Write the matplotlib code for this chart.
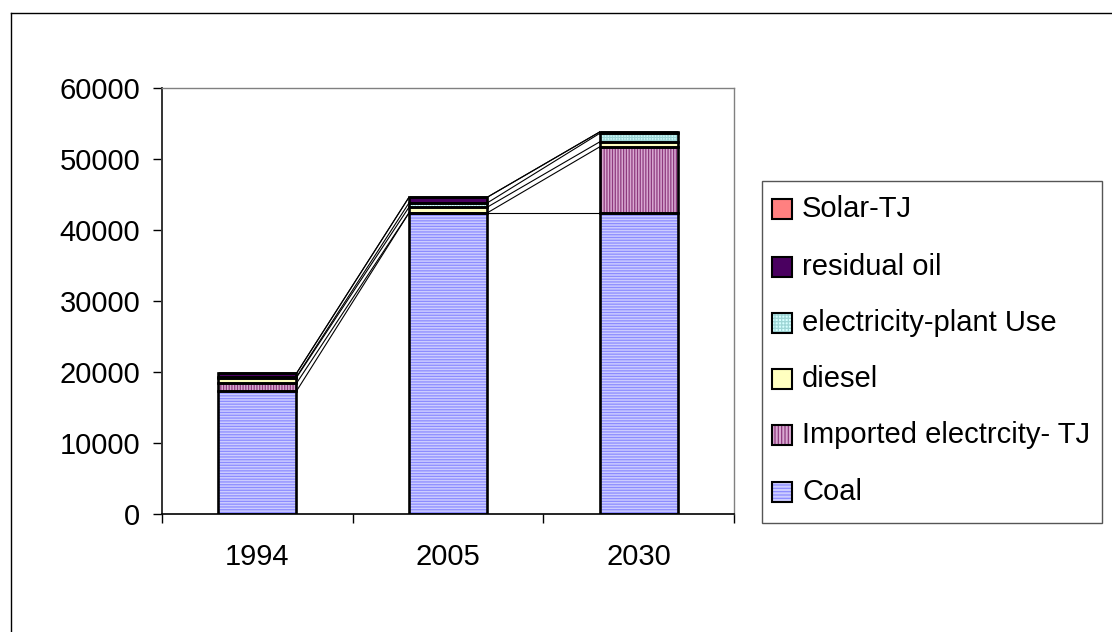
import matplotlib
matplotlib.use("Agg")
import matplotlib.pyplot as plt
from matplotlib.patches import Rectangle
from matplotlib.lines import Line2D
import numpy as np

plt.rcParams['font.family'] = ['Liberation Sans', 'DejaVu Sans']
plt.rcParams['hatch.linewidth'] = 0.9

# Energy use by fuel (TJ)
years = ["1994", "2005", "2030"]
series_names = ["Coal", "Imported electrcity- TJ", "diesel",
                "electricity-plant Use", "residual oil", "Solar-TJ"]
coal = [17300, 42400, 42400]
imported_elec = [1100, 0, 9300]
diesel = [800, 800, 700]
elec_plant_use = [100, 600, 1200]
residual_oil = [500, 800, 200]
solar = [0, 0, 0]
series_values = [coal, imported_elec, diesel, elec_plant_use, residual_oil, solar]

yticks = [0, 10000, 20000, 30000, 40000, 50000, 60000]

# fill colour, hatch colour, hatch pattern
styles = [
    ("#CCCCFF", "#8C8CFF", "-" * 6),
    ("#D9A9D2", "#8E3A7E", "|" * 6),
    ("#FFFFC0", None, None),
    ("#D6FFFF", "#9ED6D6", "+" * 6),
    ("#4A0060", None, None),
    ("#FF8080", None, None),
]

FS = 21
W, H = 1112, 632
fig = plt.figure(figsize=(W / 100, H / 100), dpi=100)


def fx(px):
    return px / W


def fy(py):
    return 1 - py / H


ax = fig.add_axes([fx(162), fy(514), fx(734) - fx(162), fy(88) - fy(514)])

x = np.arange(len(years))
bar_w = 0.41
bottom = np.zeros(len(years))
tops = []
for vals, (fc, hc, hatch) in zip(series_values, styles):
    vals = np.array(vals, dtype=float)
    if hatch:
        ax.bar(x, vals, bar_w, bottom=bottom, color=fc, edgecolor=hc,
               hatch=hatch, linewidth=0, zorder=2)
    else:
        ax.bar(x, vals, bar_w, bottom=bottom, color=fc, linewidth=0, zorder=2)
    ax.bar(x, vals, bar_w, bottom=bottom, fill=False, edgecolor="black",
           linewidth=1.9, zorder=3)
    bottom = bottom + vals
    tops.append(bottom.copy())

# series lines joining the top of each segment between neighbouring bars
for cum in tops:
    for i in range(len(years) - 1):
        ax.plot([x[i] + bar_w / 2, x[i + 1] - bar_w / 2], [cum[i], cum[i + 1]],
                color="black", linewidth=0.8, zorder=1.5)

ax.set_xlim(-0.5, len(years) - 0.5)
ax.set_ylim(0, 60000)
ax.set_yticks(yticks)
ax.set_yticklabels([str(v) for v in yticks])
ax.set_xticks(np.arange(len(years) + 1) - 0.5)
ax.set_xticklabels([])
ax.set_xticks(x, minor=True)
ax.set_xticklabels(years, minor=True)
ax.tick_params(axis="x", which="minor", length=0, pad=21, labelsize=FS)
ax.tick_params(axis="x", which="major", direction="out", length=6.5, width=1.0, color="black")
ax.tick_params(axis="y", direction="out", length=6.5, width=1.0, pad=9, labelsize=FS, color="black")

for side in ("top", "right"):
    ax.spines[side].set_color("#808080")
    ax.spines[side].set_linewidth(1.0)
ax.spines["left"].set_color("#333333")
ax.spines["left"].set_linewidth(1.4)
ax.spines["bottom"].set_color("black")
ax.spines["bottom"].set_linewidth(1.2)

# outer chart frame
fig.add_artist(Line2D([fx(11), 1.0], [fy(13), fy(13)], color="black", linewidth=1.0))
fig.add_artist(Line2D([fx(11), fx(11)], [fy(13), 0.0], color="black", linewidth=1.0))

# legend box
fig.add_artist(Rectangle((fx(762), fy(523)), fx(1102) - fx(762), fy(181) - fy(523),
                         transform=fig.transFigure, fill=False, edgecolor="#555555",
                         linewidth=1.0))
entry_y = [492, 435, 379, 323, 267, 209]
for name, (fc, hc, hatch), cy in zip(series_names, styles, entry_y):
    box = ((fx(772), fy(cy + 10)), fx(792) - fx(772), fy(cy - 10) - fy(cy + 10))
    if hatch:
        fig.add_artist(Rectangle(*box, transform=fig.transFigure, facecolor=fc,
                                 edgecolor=hc, hatch=hatch[:5], linewidth=0))
    else:
        fig.add_artist(Rectangle(*box, transform=fig.transFigure, facecolor=fc,
                                 linewidth=0))
    fig.add_artist(Rectangle(*box, transform=fig.transFigure, fill=False,
                             edgecolor="black", linewidth=1.5))
    fig.text(fx(802), fy(cy), name, fontsize=FS, va="center", ha="left")

fig.savefig("out.png", dpi=100)
